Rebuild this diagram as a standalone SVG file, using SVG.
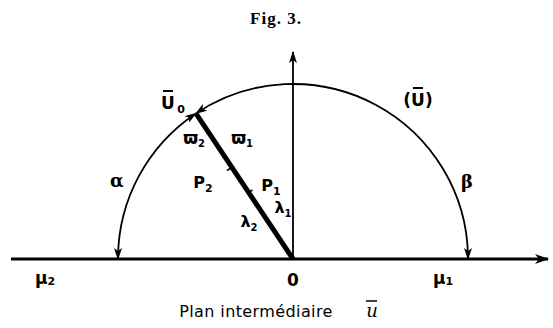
<svg xmlns="http://www.w3.org/2000/svg" width="553" height="328" viewBox="0 0 553 328">
<defs>
<marker id="ah" viewBox="0 0 12 8" refX="11" refY="4" markerWidth="12" markerHeight="8" markerUnits="userSpaceOnUse" orient="auto-start-reverse">
<path d="M0,0 L12,4 L0,8 L3,4 Z" fill="#000"/>
</marker>
<marker id="ahb" viewBox="0 0 14 10" refX="13" refY="5" markerWidth="14" markerHeight="10" markerUnits="userSpaceOnUse" orient="auto">
<path d="M0,0 L14,5 L0,10 L4,5 Z" fill="#000"/>
</marker>
</defs>
<style>
.lbl{font-family:"DejaVu Sans","Liberation Sans",sans-serif;font-weight:bold;fill:#000}
.gr{font-family:"DejaVu Serif","Liberation Serif",serif;font-weight:bold;fill:#000}
.ln{fill:none;stroke:#000}
</style>
<rect width="553" height="328" fill="#fff"/>
<text x="276" y="24" text-anchor="middle" font-family="Liberation Serif, serif" font-weight="bold" font-size="17" letter-spacing="1">Fig. 3.</text>
<g id="connectors">
<line class="ln" x1="11" y1="259" x2="548" y2="259" stroke-width="3.2" marker-end="url(#ahb)"/>
<line class="ln" x1="293" y1="259" x2="293" y2="52" stroke-width="1.8" marker-end="url(#ah)"/>
<path class="ln" d="M195.9 113.4 A175 175 0 0 1 468 259" stroke-width="1.8" marker-start="url(#ah)" marker-end="url(#ah)"/>
<path class="ln" d="M195.9 113.4 A175 175 0 0 0 118 259" stroke-width="1.8" marker-start="url(#ah)" marker-end="url(#ah)"/>
<line class="ln" x1="195.9" y1="113.4" x2="293" y2="259" stroke-width="5"/>
<line class="ln" x1="231" y1="168" x2="227" y2="170.5" stroke-width="1.5"/>
<line class="ln" x1="252.5" y1="190" x2="248.5" y2="192.5" stroke-width="1.5"/>
</g>
<g id="U0"><text class="lbl" x="168" y="109" font-size="17" text-anchor="middle">U</text><line class="ln" x1="163" y1="91" x2="173" y2="91" stroke-width="2"/><text class="lbl" x="181" y="113" font-size="11" text-anchor="middle">0</text></g>
<g id="U"><text class="lbl" x="418" y="106" font-size="17" text-anchor="middle">(U)</text><line class="ln" x1="413" y1="88" x2="423" y2="88" stroke-width="2"/></g>
<g id="alpha"><text class="gr" x="117" y="187" font-size="18" text-anchor="middle">α</text></g>
<g id="beta"><text class="gr" x="467" y="188" font-size="18" text-anchor="middle">β</text></g>
<g id="w2"><text class="lbl" x="194" y="144" font-size="17" text-anchor="middle">ϖ<tspan font-size="10" dy="3">2</tspan></text></g>
<g id="w1"><text class="lbl" x="242" y="144" font-size="17" text-anchor="middle">ϖ<tspan font-size="10" dy="3">1</tspan></text></g>
<g id="P2"><text class="lbl" x="203" y="188" font-size="16" text-anchor="middle">P<tspan font-size="11" dy="4">2</tspan></text></g>
<g id="P1"><text class="lbl" x="271" y="191" font-size="16" text-anchor="middle">P<tspan font-size="11" dy="4">1</tspan></text></g>
<g id="l1"><text class="lbl" x="283" y="213" font-size="16" text-anchor="middle">λ<tspan font-size="10" dy="4">1</tspan></text></g>
<g id="l2"><text class="lbl" x="249" y="227" font-size="16" text-anchor="middle">λ<tspan font-size="10" dy="4">2</tspan></text></g>
<g id="mu2"><text class="lbl" x="45" y="284" font-size="17" text-anchor="middle">μ<tspan font-size="11" dy="1">2</tspan></text></g>
<g id="O"><text class="lbl" x="293" y="286" font-size="17" text-anchor="middle">0</text></g>
<g id="mu1"><text class="lbl" x="443" y="284" font-size="17" text-anchor="middle">μ<tspan font-size="11" dy="1">1</tspan></text></g>
<g id="caption"><text x="256" y="317" text-anchor="middle" font-family="DejaVu Sans, sans-serif" font-size="16" letter-spacing="0.4">Plan intermédiaire</text><text x="372" y="317" text-anchor="middle" font-family="DejaVu Serif, serif" font-style="italic" font-size="18">u</text><line class="ln" x1="366" y1="301" x2="377" y2="301" stroke-width="1.5"/></g>
</svg>
